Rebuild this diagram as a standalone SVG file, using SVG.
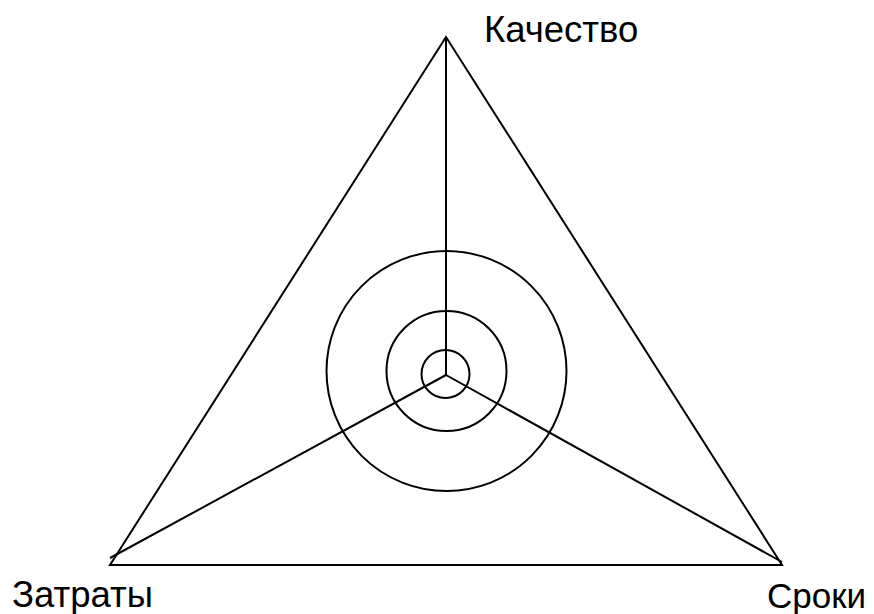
<svg xmlns="http://www.w3.org/2000/svg" width="874" height="614" viewBox="0 0 874 614">
<style>
.ln{fill:none;stroke:#000;stroke-width:2}
.lb{font-family:"Liberation Sans",Arial,sans-serif;font-size:36.5px;fill:#000}
</style>
<rect width="874" height="614" fill="#fff"/>
<g id="connectors">
<path class="ln" d="M446,37 L110,565 L782,565 Z"/>
<line class="ln" x1="446" y1="37" x2="446" y2="375"/>
<line class="ln" x1="446" y1="375" x2="110" y2="558"/>
<line class="ln" x1="446" y1="375" x2="782" y2="562"/>
</g>
<g id="circles">
<circle class="ln" cx="446.5" cy="371" r="120"/>
<circle class="ln" cx="446.5" cy="371" r="60"/>
<circle class="ln" cx="445.5" cy="374" r="24"/>
</g>
<g id="quality"><text class="lb" x="484" y="42">Качество</text></g>
<g id="costs"><text class="lb" x="12" y="607">Затраты</text></g>
<g id="time"><text class="lb" x="767" y="608" style="font-size:35px">Сроки</text></g>
</svg>
